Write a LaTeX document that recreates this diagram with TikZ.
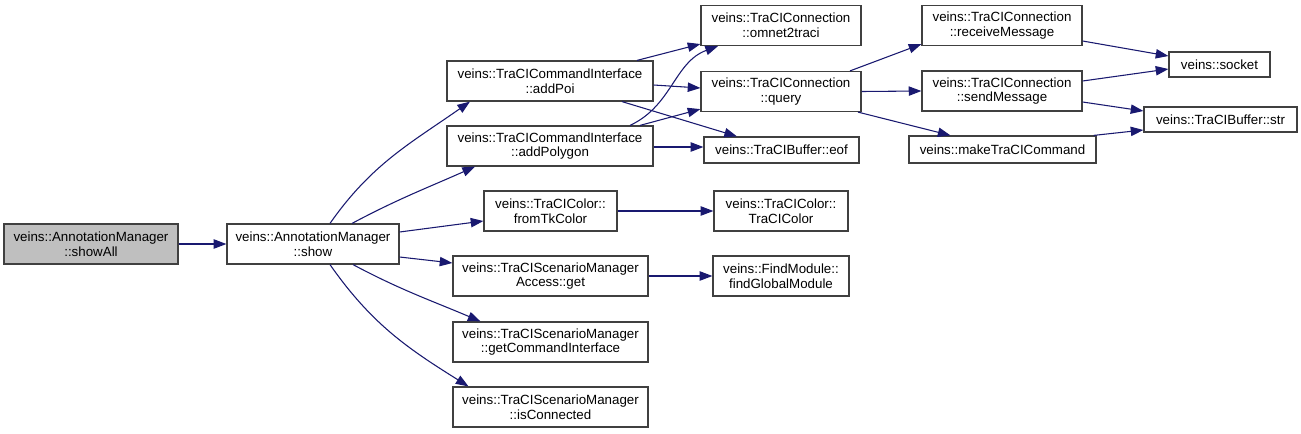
\documentclass[tikz,border=0pt]{standalone}
\usepackage{fontspec}
\setmainfont{Liberation Sans}
\usetikzlibrary{arrows.meta}
\definecolor{edgeblue}{HTML}{191970}

\begin{document}
\begin{tikzpicture}[x=0.75pt, y=0.75pt,
    fn/.style={draw=black!75, fill=white, line width=0.9pt, align=center, inner sep=0pt,
      font=\fontsize{10}{11}\selectfont, minimum height=30pt},
    wd/.style={minimum width=#1*0.75pt},
    ht/.style={minimum height=#1*0.75pt},
    root/.style={fn, fill=black!25},
    call/.style={draw=edgeblue, line width=0.8pt, -{Triangle[length=9.5pt, width=7pt]}}]
        \fill[white] (0,0) rectangle (1301,-433);
        \useasboundingbox (0,0) rectangle (1301,-433);

        % Nodes
        \node[root, wd=174] (showAll) at (91,-244) {veins::AnnotationManager\\::showAll};
        \node[fn, wd=172] (show) at (313,-244) {veins::AnnotationManager\\::show};
        \node[fn, wd=206] (addPoi) at (550,-81) {veins::TraCICommandInterface\\::addPoi};
        \node[fn, wd=206] (addPolygon) at (550,-146) {veins::TraCICommandInterface\\::addPolygon};
        \node[fn, wd=133] (fromTk) at (550.5,-211) {veins::TraCIColor::\\fromTkColor};
        \node[fn, wd=195] (accessGet) at (550.5,-276) {veins::TraCIScenarioManager\\Access::get};
        \node[fn, wd=195] (getCI) at (550.5,-342) {veins::TraCIScenarioManager\\::getCommandInterface};
        \node[fn, wd=195] (isConn) at (550.5,-407) {veins::TraCIScenarioManager\\::isConnected};
        \node[fn, wd=134] (traciColor) at (781,-211) {veins::TraCIColor::\\TraCIColor};
        \node[fn, wd=136] (findGlobal) at (781,-276) {veins::FindModule::\\findGlobalModule};
        \node[fn, wd=160] (omnet) at (781,-25.5) {veins::TraCIConnection\\::omnet2traci};
        \node[fn, wd=160] (query) at (781,-91.5) {veins::TraCIConnection\\::query};
        \node[fn, wd=155, ht=26] (eof) at (781.5,-150) {veins::TraCIBuffer::eof};
        \node[fn, wd=160] (receiveMsg) at (1002,-25.5) {veins::TraCIConnection\\::receiveMessage};
        \node[fn, wd=160] (sendMsg) at (1002,-91) {veins::TraCIConnection\\::sendMessage};
        \node[fn, wd=187, ht=27] (makeCmd) at (1002.5,-149.5) {veins::makeTraCICommand};
        \node[fn, wd=101, ht=25] (socket) at (1219.5,-64.5) {veins::socket};
        \node[fn, wd=153, ht=25] (str) at (1220.5,-119.5) {veins::TraCIBuffer::str};

        % Arrows
        \draw[call] (showAll.east) -- (show.west);
        \draw[call] ([shift={(17,0)}]show.north) to[out=55, in=215] ([shift={(-80,0)}]addPoi.south);
        \draw[call] ([shift={(39,0)}]show.north) to[out=28, in=204] ([shift={(-75,0)}]addPolygon.south);
        \draw[call] ([shift={(0,12)}]show.east) -- ([shift={(0,-10)}]fromTk.west);
        \draw[call] ([shift={(0,-13)}]show.east) -- ([shift={(0,13)}]accessGet.west);
        \draw[call] ([shift={(40,0)}]show.south) to[out=-28, in=157] ([shift={(-70,0)}]getCI.north);
        \draw[call] ([shift={(17,0)}]show.south) to[out=-55, in=148] ([shift={(-82,0)}]isConn.north);
        \draw[call] ([shift={(87,0)}]addPoi.north) -- ([shift={(0,-18.5)}]omnet.west);
        \draw[call] ([shift={(0,-4)}]addPoi.east) -- ([shift={(0,3.5)}]query.west);
        \draw[call] ([shift={(72,0)}]addPoi.south) -- ([shift={(-44.5,0)}]eof.north);
        \draw[call] ([shift={(80,0)}]addPolygon.north) to[out=25, in=200] ([shift={(-63,0)}]omnet.south);
        \draw[call] ([shift={(90,0)}]addPolygon.north) -- ([shift={(0,3)}]query.south west);
        \draw[call] ([shift={(0,-1)}]addPolygon.east) -- ([shift={(0,3)}]eof.west);
        \draw[call] (fromTk.east) -- (traciColor.west);
        \draw[call] (accessGet.east) -- (findGlobal.west);
        \draw[call] ([shift={(69,0)}]query.north) -- ([shift={(0,2)}]receiveMsg.south west);
        \draw[call] (query.east) -- (sendMsg.west);
        \draw[call] ([shift={(77,0)}]query.south) -- ([shift={(-52,0)}]makeCmd.north);
        \draw[call] ([shift={(0,-15.5)}]receiveMsg.east) -- ([shift={(0,8.5)}]socket.west);
        \draw[call] ([shift={(0,10)}]sendMsg.east) -- ([shift={(0,-4.5)}]socket.west);
        \draw[call] ([shift={(0,-11)}]sendMsg.east) -- ([shift={(0,8.5)}]str.west);
        \draw[call] ([shift={(-3,0)}]makeCmd.north east) -- ([shift={(0,-10.5)}]str.west);
    \end{tikzpicture}
\end{document}
